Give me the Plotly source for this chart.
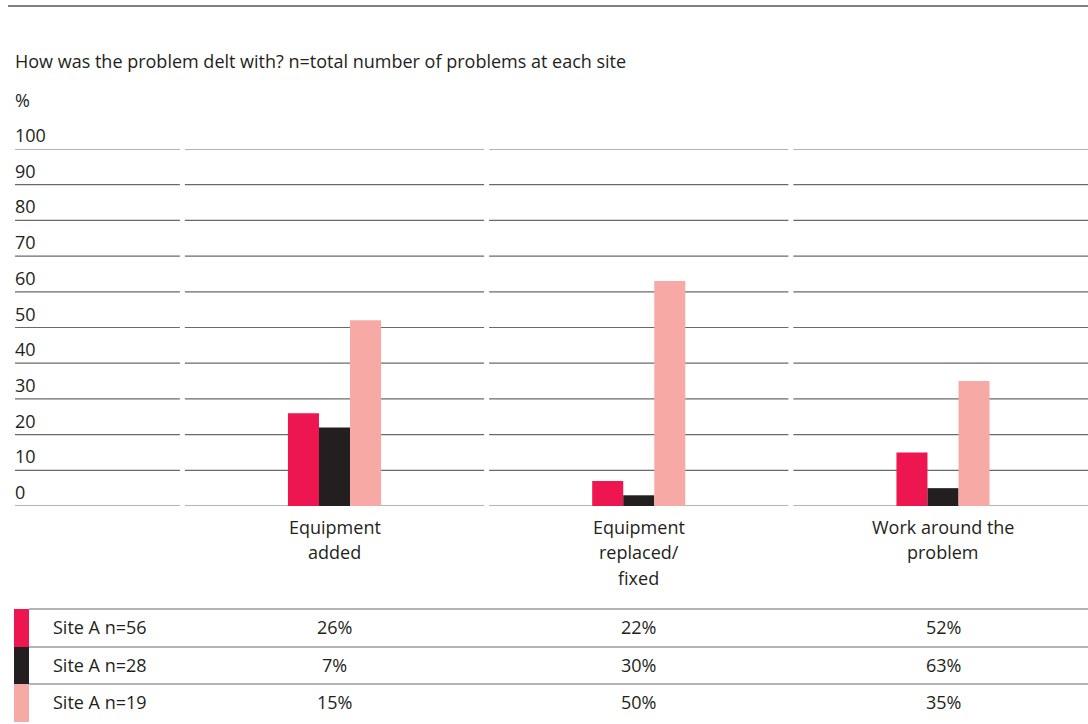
import plotly.graph_objects as go

# ---- data ----
categories = ["Equipment<br>added", "Equipment<br>replaced/<br>fixed", "Work around the<br>problem"]
series_names = ["Site A n=56", "Site A n=28", "Site A n=19"]
red_values = [26, 7, 15]
black_values = [22, 3, 5]
pink_values = [52, 63, 35]
table_text = [
    ["26%", "22%", "52%"],
    ["7%", "30%", "63%"],
    ["15%", "50%", "35%"],
]
y_ticks = [0, 10, 20, 30, 40, 50, 60, 70, 80, 90, 100]
title_text = "How was the problem delt with? n=total number of problems at each site"

# ---- style ----
W, H = 1088, 724
FONT = "Open Sans"
TEXT = "#231f20"
COLORS = ["#ed1651", "#231f20", "#f7aaa5"]
GRID = "#6a6a6a"
FS = 18


def px(x):
    return x / W


def py(y):
    return 1 - y / H


# axis geometry: category centres and the 0/100 baseline in pixels
c0, step = 334.5, 304.25
y0_px, y100_px = 506, 149
x_range = [-c0 / step, (W - c0) / step]

fig = go.Figure()
series_values = [red_values, black_values, pink_values]
for name, vals, col in zip(series_names, series_values, COLORS):
    fig.add_trace(go.Bar(
        x=list(range(len(categories))), y=vals, name=name,
        marker=dict(color=col, line=dict(width=0)),
        hoverinfo="y",
    ))

shapes = []
annotations = []

# top rule
shapes.append(dict(type="line", xref="paper", yref="paper",
                   x0=px(8), x1=1, y0=py(6), y1=py(6),
                   line=dict(color="#555555", width=1.5)))

# segmented gridlines: label column + one segment per category column
gap = 0.0082
label_right = -0.5 - gap
for t in y_ticks:
    shapes.append(dict(type="line", xref="x", yref="y", layer="below",
                       x0=x_range[0] + 15 / step, x1=label_right, y0=t, y1=t,
                       line=dict(color=GRID, width=1.2)))
    for i in range(len(categories)):
        shapes.append(dict(type="line", xref="x", yref="y", layer="below",
                           x0=i - 0.5 + gap, x1=i + 0.5 - gap, y0=t, y1=t,
                           line=dict(color=GRID, width=1.2)))
    annotations.append(dict(text=str(t), xref="paper", yref="y", x=px(13), y=t,
                            xanchor="left", yanchor="bottom", yshift=0,
                            showarrow=False, font=dict(size=FS, color=TEXT, family=FONT)))

# title and unit
annotations.append(dict(text=title_text, xref="paper", yref="paper", x=px(13), y=py(61),
                        xanchor="left", yanchor="middle", showarrow=False,
                        font=dict(size=FS, color=TEXT, family=FONT)))
annotations.append(dict(text="%", xref="paper", yref="paper", x=px(13), y=py(100),
                        xanchor="left", yanchor="middle", showarrow=False,
                        font=dict(size=FS, color=TEXT, family=FONT)))

# category labels, one line at a time
line_y = [527, 552, 578]
for i, cat in enumerate(categories):
    for j, part in enumerate(cat.split("<br>")):
        annotations.append(dict(text=part, xref="x", yref="paper", x=i, y=py(line_y[j]),
                                xanchor="center", yanchor="middle", showarrow=False,
                                font=dict(size=FS, color=TEXT, family=FONT)))

# table below the chart
row_top = [609, 647, 684]
row_bottom = [647, 684, 722]
for r, name in enumerate(series_names):
    shapes.append(dict(type="rect", xref="paper", yref="paper",
                       x0=px(14), x1=px(29), y0=py(row_top[r]), y1=py(row_bottom[r]),
                       fillcolor=COLORS[r], line=dict(width=0)))
    shapes.append(dict(type="line", xref="paper", yref="paper",
                       x0=px(29), x1=1, y0=py(row_top[r]), y1=py(row_top[r]),
                       line=dict(color=GRID, width=1.2)))
    yc = py((row_top[r] + row_bottom[r]) / 2 - 1)
    annotations.append(dict(text=name, xref="paper", yref="paper", x=px(51), y=yc,
                            xanchor="left", yanchor="middle", showarrow=False,
                            font=dict(size=FS, color=TEXT, family=FONT)))
    for i, txt in enumerate(table_text[r]):
        annotations.append(dict(text=txt, xref="x", yref="paper", x=i, y=yc,
                                xanchor="center", yanchor="middle", showarrow=False,
                                font=dict(size=FS, color=TEXT, family=FONT)))

fig.update_layout(
    width=W, height=H,
    margin=dict(l=0, r=0, t=0, b=0),
    paper_bgcolor="white", plot_bgcolor="rgba(0,0,0,0)",
    barmode="group", bargap=0.694, bargroupgap=0,
    showlegend=False,
    xaxis=dict(range=x_range, domain=[0, 1], showgrid=False, zeroline=False,
               showticklabels=False, showline=False, fixedrange=True),
    yaxis=dict(range=[0, 100], domain=[py(y0_px), py(y100_px)], showgrid=False,
               zeroline=False, showticklabels=False, showline=False, fixedrange=True),
    shapes=shapes, annotations=annotations,
    font=dict(family=FONT, color=TEXT),
)

fig.write_html("out.html")
